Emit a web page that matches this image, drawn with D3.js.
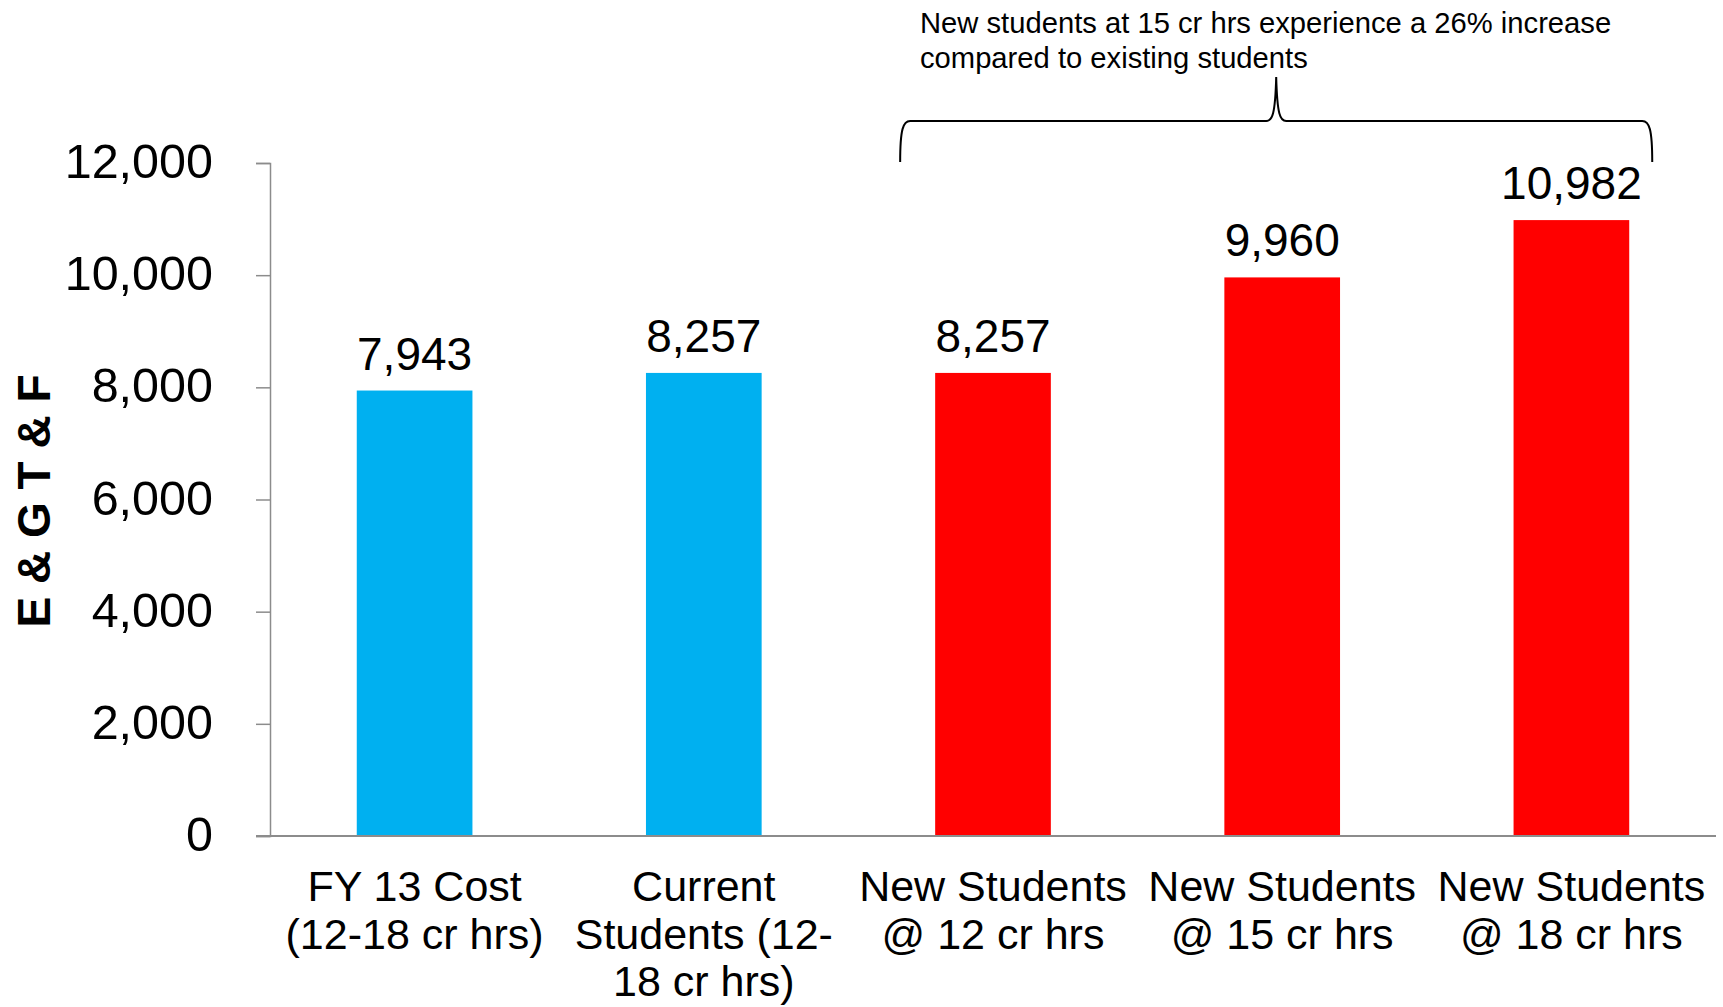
<!DOCTYPE html>
<html>
<head>
<meta charset="utf-8">
<script src="https://cdn.jsdelivr.net/npm/d3@7"></script>
<style>
  html, body { margin: 0; padding: 0; background: #ffffff; }
  svg { display: block; font-family: "Liberation Sans", Arial, Helvetica, sans-serif; }
</style>
</head>
<body>
<svg id="chart" width="1723" height="1007"></svg>
<script>
// Cost per student (E & G T & F), by enrolment group
const categories = [
  "FY 13 Cost (12-18 cr hrs)",
  "Current Students (12-18 cr hrs)",
  "New Students @ 12 cr hrs",
  "New Students @ 15 cr hrs",
  "New Students @ 18 cr hrs"
];
const categoryLines = [
  ["FY 13 Cost", "(12-18 cr hrs)"],
  ["Current", "Students (12-", "18 cr hrs)"],
  ["New Students", "@ 12 cr hrs"],
  ["New Students", "@ 15 cr hrs"],
  ["New Students", "@ 18 cr hrs"]
];
const values = [7943, 8257, 8257, 9960, 10982];
const groups = ["existing", "existing", "new", "new", "new"];
const yTicks = [0, 2000, 4000, 6000, 8000, 10000, 12000];
const yTitle = "E & G T & F";
const noteLines = [
  "New students at 15 cr hrs experience a 26% increase",
  "compared to existing students"
];

const groupColor = { existing: "#00B0F0", new: "#FF0000" };
const axisColor = "#8c8c8c";
const fmt = d3.format(",");

const svg = d3.select("#chart");
const plot = { left: 270, right: 1716, top: 163, bottom: 836 };

const x = d3.scaleBand()
  .domain(categories)
  .range([plot.left, plot.right])
  .paddingInner(0.6)
  .paddingOuter(0.3);

const y = d3.scaleLinear()
  .domain([0, 12000])
  .range([plot.bottom, plot.top]);

// Y axis
const yAxis = svg.append("g")
  .attr("transform", `translate(${plot.left},0)`)
  .call(d3.axisLeft(y).tickValues(yTicks).tickFormat(fmt).tickSize(14).tickPadding(43));
yAxis.select(".domain").attr("stroke", axisColor).attr("stroke-width", 1.5);
yAxis.selectAll(".tick line").attr("stroke", axisColor).attr("stroke-width", 1.5);
yAxis.selectAll(".tick text")
  .attr("fill", "#000")
  .attr("font-size", 48.5)
  .attr("font-family", "'Liberation Sans', Arial, sans-serif")
  .attr("dy", "0.3em");

// Bars
svg.append("g").selectAll("rect")
  .data(values)
  .join("rect")
  .attr("x", (d, i) => x(categories[i]))
  .attr("y", d => y(d))
  .attr("width", x.bandwidth())
  .attr("height", d => y(0) - y(d))
  .attr("fill", (d, i) => groupColor[groups[i]]);

// Value labels
svg.append("g").selectAll("text")
  .data(values)
  .join("text")
  .attr("x", (d, i) => x(categories[i]) + x.bandwidth() / 2)
  .attr("y", d => y(d) - 21)
  .attr("text-anchor", "middle")
  .attr("font-size", 46)
  .attr("fill", "#000")
  .text(d => fmt(d));

// X baseline
svg.append("line")
  .attr("x1", plot.left - 14).attr("x2", plot.right)
  .attr("y1", y(0)).attr("y2", y(0))
  .attr("stroke", axisColor).attr("stroke-width", 2);

// Category labels
const catG = svg.append("g");
categoryLines.forEach((lines, i) => {
  const cx = x(categories[i]) + x.bandwidth() / 2;
  const t = catG.append("text")
    .attr("x", cx)
    .attr("y", 901)
    .attr("text-anchor", "middle")
    .attr("font-size", 43)
    .attr("fill", "#000");
  lines.forEach((ln, j) => {
    t.append("tspan")
      .attr("x", cx)
      .attr("y", 901 + j * 47.5)
      .text(ln);
  });
});

// Y title
svg.append("text")
  .attr("transform", "translate(50,501) rotate(-90)")
  .attr("text-anchor", "middle")
  .attr("font-size", 46)
  .attr("font-weight", "bold")
  .attr("fill", "#000")
  .text(yTitle);

// Brace spanning the new-student bars
const bx0 = x(categories[2]) - 35;
const bx1 = x(categories[4]) + x.bandwidth() + 23;
const bm = (bx0 + bx1) / 2;
const yEnd = 162, yBar = 121, yTip = 77;
const brace = d3.path();
brace.moveTo(bx0, yEnd);
brace.bezierCurveTo(bx0, yBar + 8, bx0 + 3, yBar, bx0 + 10, yBar);
brace.lineTo(bm - 10, yBar);
brace.bezierCurveTo(bm - 4, yBar, bm - 1, yBar - 6, bm, yTip);
brace.bezierCurveTo(bm + 1, yBar - 6, bm + 4, yBar, bm + 10, yBar);
brace.lineTo(bx1 - 10, yBar);
brace.bezierCurveTo(bx1 - 3, yBar, bx1, yBar + 8, bx1, yEnd);
svg.append("path")
  .attr("d", brace.toString())
  .attr("fill", "none")
  .attr("stroke", "#000")
  .attr("stroke-width", 2);

// Annotation text
const note = svg.append("text")
  .attr("font-size", 29.2)
  .attr("fill", "#000");
noteLines.forEach((ln, j) => {
  note.append("tspan").attr("x", 920).attr("y", 33 + j * 35).text(ln);
});
</script>
</body>
</html>
